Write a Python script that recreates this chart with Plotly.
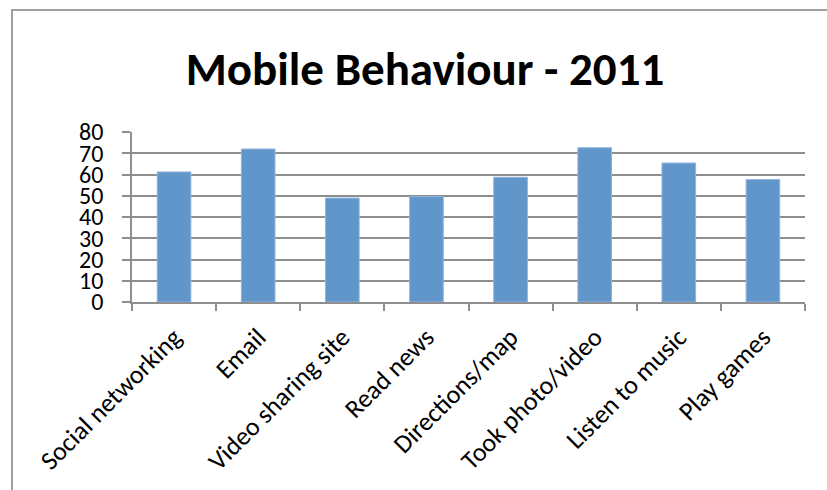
import plotly.graph_objects as go

# Share of mobile users doing each activity (percent)
categories = ["Social networking", "Email", "Video sharing site", "Read news",
              "Directions/map", "Took photo/video", "Listen to music", "Play games"]
values = [61.2, 72.0, 48.9, 49.6, 58.7, 72.6, 65.4, 57.6]
y_ticks = [0, 10, 20, 30, 40, 50, 60, 70, 80]

FONT = "Carlito, Lato, 'Open Sans', sans-serif"
GRID = "#8e8e8e"

fig = go.Figure(
    go.Bar(
        x=categories,
        y=values,
        marker=dict(color="#6096ca", line=dict(color="#8fb4de", width=1)),
        showlegend=False,
    )
)

W, H = 827, 490
L, R, T, B = 132, 22, 132, 188

fig.update_layout(
    width=W,
    height=H,
    margin=dict(l=L, r=R, t=T, b=B),
    paper_bgcolor="white",
    plot_bgcolor="white",
    bargap=0.6,
    title=dict(
        text="<b>Mobile Behaviour - 2011</b>",
        font=dict(family=FONT, size=47, color="black"),
        x=425 / W,
        xanchor="center",
        y=1 - 69 / H,
        yanchor="middle",
    ),
    font=dict(family=FONT, color="black"),
)

fig.update_yaxes(
    range=[0, 80],
    tickvals=y_ticks,
    ticktext=[str(v) for v in y_ticks],
    showgrid=True,
    gridcolor=GRID,
    gridwidth=1.5,
    showline=True,
    linecolor=GRID,
    linewidth=1.5,
    ticks="outside",
    ticklen=8,
    tickcolor=GRID,
    tickwidth=1.5,
    tickfont=dict(family=FONT, size=24, color="black"),
    ticklabelstandoff=14,
    zeroline=False,
    fixedrange=True,
)

fig.update_xaxes(
    tickangle=-45,
    tickson="boundaries",
    ticks="outside",
    ticklen=7,
    tickcolor=GRID,
    tickwidth=1.5,
    showline=True,
    linecolor=GRID,
    linewidth=1.5,
    showgrid=False,
    tickfont=dict(family=FONT, size=26, color="black"),
    ticklabelstandoff=8,
    fixedrange=True,
)

# Chart-area frame (runs off the right and bottom edges of the page)
pw = W - L - R
ph = H - T - B
fig.add_shape(
    type="rect",
    xref="paper", yref="paper",
    x0=(12 - L) / pw, x1=(W + 30 - L) / pw,
    y0=-(H + 30 - (H - B)) / ph, y1=(H - B - 10) / ph,
    line=dict(color="#a0a0a0", width=2),
    fillcolor="rgba(0,0,0,0)",
    layer="below",
)

fig.write_html("out.html", config={"displayModeBar": False})
